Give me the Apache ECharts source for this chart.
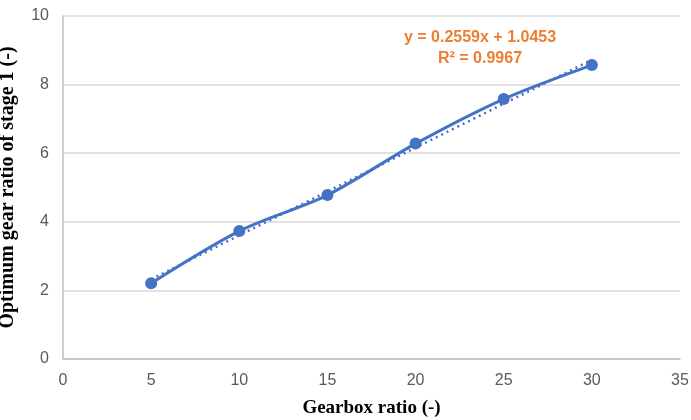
<!DOCTYPE html>
<html>
<head>
<meta charset="utf-8">
<script src="https://cdn.jsdelivr.net/npm/echarts@6/dist/echarts.min.js"></script>
<style>
  html, body { margin: 0; padding: 0; background: #fff; }
  #chart { width: 691px; height: 420px; }
</style>
</head>
<body>
<div id="chart"></div>
<script>
// data
const gearboxRatio = [5, 10, 15, 20, 25, 30];
const optimumStage1 = [2.21, 3.73, 4.78, 6.28, 7.58, 8.57];
// linear trendline end points (y = 0.2559x + 1.0453)
const trendX = [5, 30];
const trendY = [2.325, 8.72];
const trendText = ['y = 0.2559x + 1.0453', 'R² = 0.9967'];

const chart = echarts.init(document.getElementById('chart'));
const labelFont = { color: '#595959', fontSize: 16, fontFamily: 'Liberation Sans' };
const titleFont = { color: '#000', fontSize: 19, fontWeight: 'bold', fontFamily: 'Liberation Serif' };

const option = {
  animation: false,
  grid: { left: 63, right: 11, top: 16, bottom: 61, containLabel: false, outerBoundsMode: 'none' },
  xAxis: {
    type: 'value',
    min: 0,
    max: 35,
    interval: 5,
    name: 'Gearbox ratio (-)',
    nameLocation: 'middle',
    nameGap: 40,
    nameTextStyle: titleFont,
    axisLine: { show: true, lineStyle: { color: '#bfbfbf', width: 1.5 } },
    axisTick: { show: false },
    axisLabel: Object.assign({ margin: 14 }, labelFont),
    splitLine: { show: false },
  },
  yAxis: {
    type: 'value',
    min: 0,
    max: 10,
    interval: 2,
    name: 'Optimum gear ratio of stage 1 (-)',
    nameLocation: 'middle',
    nameGap: 45,
    nameTextStyle: Object.assign({}, titleFont, { fontSize: 20 }),
    axisLine: { show: true, lineStyle: { color: '#bfbfbf', width: 1.5 } },
    axisTick: { show: false },
    axisLabel: Object.assign({ margin: 14 }, labelFont),
    splitLine: { show: true, lineStyle: { color: '#d9d9d9', width: 1.5 } },
  },
  series: [
    {
      name: 'trend',
      type: 'line',
      data: trendX.map((x, i) => [x, trendY[i]]),
      symbol: 'none',
      lineStyle: { color: '#4472C4', width: 2.5, type: [2, 4] },
      z: 1,
    },
    {
      name: 'data',
      type: 'line',
      data: gearboxRatio.map((x, i) => [x, optimumStage1[i]]),
      smooth: 0.3,
      symbol: 'circle',
      symbolSize: 12,
      itemStyle: { color: '#4472C4' },
      lineStyle: { color: '#4472C4', width: 3 },
      z: 2,
    },
  ],
  graphic: [
    {
      type: 'text',
      x: 480,
      y: 27,
      style: {
        text: trendText.join('\n'),
        fill: '#ED7D31',
        font: 'bold 16px "Liberation Sans"',
        align: 'center',
        lineHeight: 21,
      },
    },
  ],
};
chart.setOption(option);
</script>
</body>
</html>
